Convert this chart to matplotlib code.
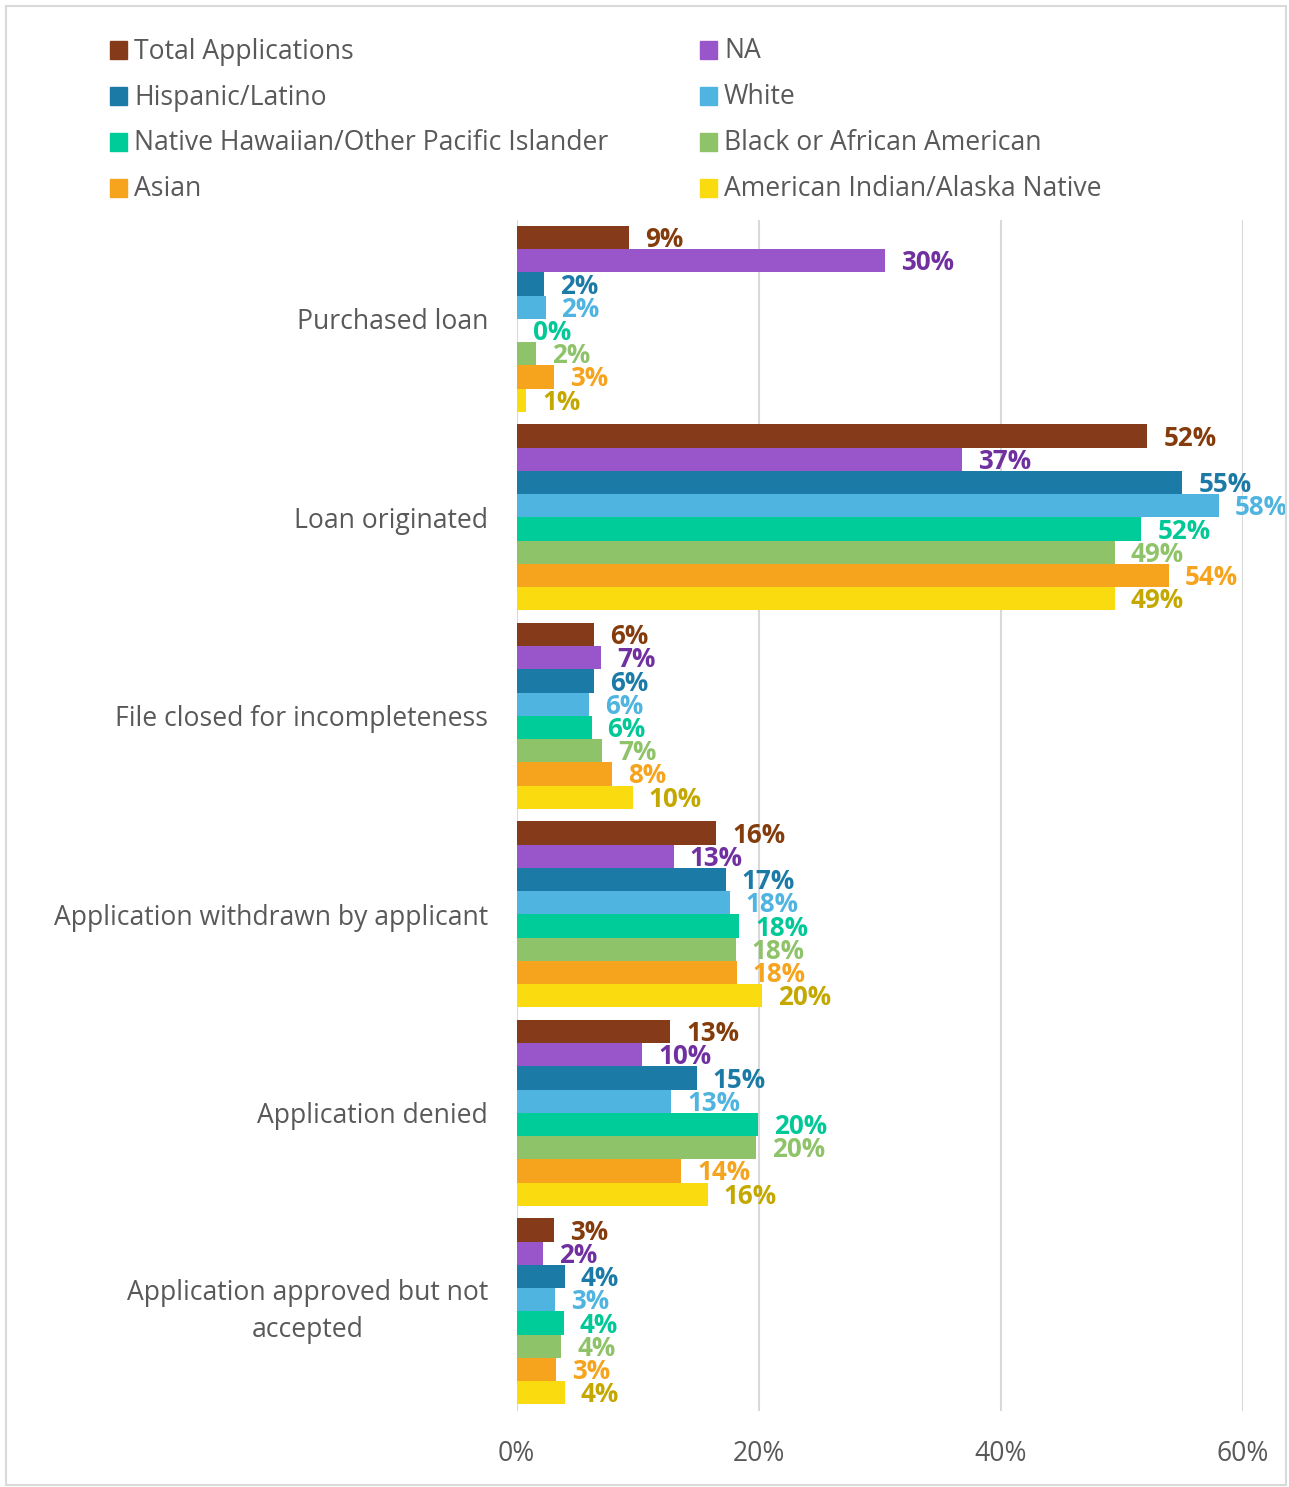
import matplotlib
matplotlib.use("Agg")
import matplotlib.pyplot as plt
from matplotlib.patches import Rectangle
import numpy as np

plt.rcParams['font.family'] = ['Open Sans', 'DejaVu Sans']

categories = ["Purchased loan", "Loan originated", "File closed for incompleteness",
              "Application withdrawn by applicant", "Application denied",
              "Application approved but not\naccepted"]
series = ["Total Applications", "NA", "Hispanic/Latino", "White",
          "Native Hawaiian/Other Pacific Islander", "Black or African American",
          "Asian", "American Indian/Alaska Native"]

total    = [9.3, 52.1, 6.4, 16.5, 12.7, 3.1]
na       = [30.4, 36.8, 7.0, 13.0, 10.4, 2.2]
hispanic = [2.3, 55.0, 6.4, 17.3, 14.9, 4.0]
white    = [2.4, 58.0, 6.0, 17.6, 12.8, 3.2]
nhpi     = [0.05, 51.6, 6.2, 18.4, 19.95, 3.9]
black    = [1.6, 49.4, 7.1, 18.1, 19.8, 3.7]
asian    = [3.1, 53.9, 7.9, 18.2, 13.6, 3.3]
aian     = [0.8, 49.4, 9.6, 20.3, 15.8, 4.0]
values = [total, na, hispanic, white, nhpi, black, asian, aian]

bar_colors = ["#853B1A", "#9955CA", "#1B7BA6", "#4FB5E0", "#00CC99", "#8FC36A", "#F6A31D", "#FADB10"]
label_colors = ["#843C0C", "#7030A0", "#1B7BA6", "#4FB5E0", "#00C896", "#8FC36A", "#F6A31D", "#C4A800"]
xticks = [0, 20, 40, 60]
xticklabels = ["0%", "20%", "40%", "60%"]

W, H = 1289, 1487
fig = plt.figure(figsize=(W / 100, H / 100), dpi=100)
ax_top, ax_bot = 219.6, 1410.6
ax = fig.add_axes([516.5 / W, 1 - ax_bot / H, (1243 - 516.5) / W, (ax_bot - ax_top) / H])

fs = 19.1
fs_lab = 18.7
gray = "#595959"
n = len(series)
bw = 0.117
y = np.arange(len(categories))
for i, (vals, bc, lc) in enumerate(zip(values, bar_colors, label_colors)):
    pos = y - bw * n / 2 + bw * (i + 0.5)
    bars = ax.barh(pos, vals, height=bw, color=bc, zorder=3)
    for b, v in zip(bars, vals):
        ax.annotate(f"{round(v)}%", (b.get_width(), b.get_y() + b.get_height() / 2),
                    xytext=(11.5, -1.5), textcoords="offset points", va="center", ha="left",
                    fontsize=fs_lab, fontweight="bold", color=lc, zorder=4)

ax.set_xlim(0, 60)
ax.set_ylim(len(categories) - 0.5, -0.5)
ax.set_xticks(xticks)
ax.set_xticklabels(xticklabels)
ax.set_yticks(y)
ax.set_yticklabels(categories)
ax.tick_params(axis="y", length=0, pad=20.5, labelsize=fs, labelcolor=gray)
ax.tick_params(axis="x", length=0, pad=21, labelsize=fs, labelcolor=gray)
for lab in ax.get_yticklabels():
    lab.set_multialignment("center")
    lab.set_linespacing(1.45)
    if "\n" in lab.get_text():
        lab.set_verticalalignment("center")
for s in ax.spines.values():
    s.set_visible(False)
ax.grid(axis="x", color="#D9D9D9", linewidth=1.5, zorder=0)
ax.set_axisbelow(True)

# legend (two columns, row-wise order)
for i, (name, c) in enumerate(zip(series, bar_colors)):
    col, row = i % 2, i // 2
    x0 = 110 if col == 0 else 700
    yc = 50 + row * 46
    fig.patches.append(Rectangle((x0 / W, 1 - (yc + 8.5) / H), 17 / W, 17 / H,
                                 transform=fig.transFigure, color=c, figure=fig))
    fig.text((x0 + 24) / W, 1 - (yc + 1.5) / H, name, fontsize=fs, color=gray, va="center", ha="left")

# outer border
fig.patches.append(Rectangle((6 / W, 1 - 1485 / H), 1280 / W, 1479 / H, transform=fig.transFigure,
                             fill=False, edgecolor="#D9D9D9", linewidth=1.5, figure=fig))

fig.savefig("out.png", dpi=100, facecolor="white")
